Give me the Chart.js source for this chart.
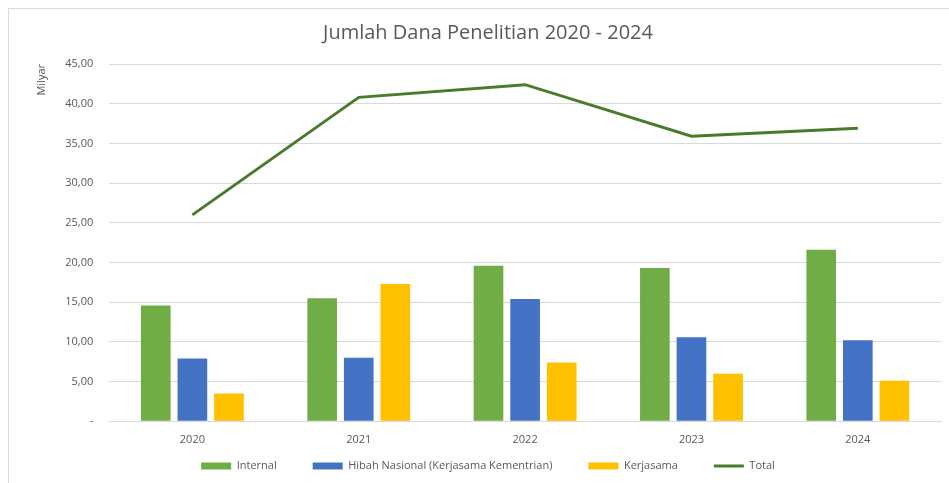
<!DOCTYPE html>
<html>
<head>
<meta charset="utf-8">
<title>Jumlah Dana Penelitian 2020 - 2024</title>
<script src="https://cdn.jsdelivr.net/npm/chart.js@4/dist/chart.umd.min.js"></script>
<style>
  html, body { margin: 0; padding: 0; background: #fff; }
  .frame { position: absolute; left: 8px; top: 8px; width: 960px; height: 500px;
           border: 1px solid #dcdcdc; box-sizing: border-box; }
  .wrap { position: absolute; left: 0; top: 0; width: 949px; height: 483px; }
</style>
</head>
<body>
<div class="frame"></div>
<div class="wrap"><canvas id="danaChart" width="949" height="483"></canvas></div>
<script>
// Dana penelitian (milyar rupiah) per tahun
const years = ["2020", "2021", "2022", "2023", "2024"];
const internal = [14.6, 15.5, 19.6, 19.3, 21.6];
const hibahNasional = [7.9, 8.0, 15.4, 10.6, 10.2];
const kerjasama = [3.5, 17.3, 7.4, 6.0, 5.1];
const total = [26.0, 40.8, 42.4, 35.9, 36.9];
const yTicks = [0, 5, 10, 15, 20, 25, 30, 35, 40, 45];

const textColor = "#595959";
const gridColor = "#d9d9d9";
const fontFamily = "'Open Sans', 'Noto Sans', sans-serif";

// wide gaps between legend items, but keep the legend row tight under the axis
const LEGEND_PAD = 36;
const LEGEND_TRIM = LEGEND_PAD - 10;

function fmtTick(v) {
  if (v === 0) return "-";
  return v.toFixed(2).replace(".", ",");
}

const legendTrim = {
  id: "legendTrim",
  beforeLayout(chart) {
    const lg = chart.legend;
    if (lg && !lg.trimmed) {
      const fit = lg.fit;
      lg.fit = function () { fit.call(this); this.height -= LEGEND_TRIM; };
      lg.trimmed = true;
    }
  },
  afterLayout(chart) {
    // only move the top edge, so the clip box still covers the row
    const lg = chart.legend;
    if (lg) lg.top -= LEGEND_TRIM;
  }
};

const ctx = document.getElementById("danaChart");
new Chart(ctx, {
  data: {
    labels: years,
    datasets: [
      { type: "bar", label: "Internal", data: internal, backgroundColor: "#70ad47", order: 2 },
      { type: "bar", label: "Hibah Nasional (Kerjasama Kementrian)", data: hibahNasional, backgroundColor: "#4472c4", order: 2 },
      { type: "bar", label: "Kerjasama", data: kerjasama, backgroundColor: "#ffc000", order: 2 },
      { type: "line", label: "Total", data: total, borderColor: "#4b7a2a", backgroundColor: "#4b7a2a",
        borderWidth: 3, pointRadius: 0, tension: 0, order: 1 }
    ]
  },
  options: {
    responsive: false,
    animation: false,
    datasets: { bar: { categoryPercentage: 0.66, barPercentage: 0.81 } },
    layout: { padding: { left: 35, right: 8, top: 2, bottom: 1.5 } },
    scales: {
      x: {
        grid: { display: false },
        border: { display: true, color: gridColor, width: 1 },
        ticks: { color: textColor, font: { family: fontFamily, size: 11 }, padding: 4 }
      },
      y: {
        min: 0, max: 45,
        afterBuildTicks: axis => { axis.ticks = yTicks.map(v => ({ value: v })); },
        grid: { color: gridColor, lineWidth: 1, drawTicks: false },
        border: { display: false },
        ticks: { color: textColor, font: { family: fontFamily, size: 11 }, padding: 16,
                 callback: v => fmtTick(v) },
        title: { display: true, text: "Milyar", align: "end", color: textColor,
                 font: { family: fontFamily, size: 11 }, padding: { top: 0, bottom: 1 } }
      }
    },
    plugins: {
      title: {
        display: true, text: "Jumlah Dana Penelitian 2020 - 2024", color: textColor,
        font: { family: fontFamily, size: 20, weight: "normal" }, padding: { top: 19, bottom: 19 }
      },
      legend: {
        position: "bottom",
        labels: {
          color: textColor, font: { family: fontFamily, size: 11 },
          usePointStyle: true, pointStyleWidth: 30, boxHeight: 7, padding: LEGEND_PAD,
          sort: (a, b) => a.datasetIndex - b.datasetIndex,
          generateLabels: chart => Chart.defaults.plugins.legend.labels.generateLabels(chart).map(l => ({
            ...l, pointStyle: l.datasetIndex === 3 ? "line" : "rect", lineWidth: l.datasetIndex === 3 ? 3 : 0
          }))
        }
      },
      tooltip: { enabled: false }
    }
  },
  plugins: [legendTrim]
});
</script>
</body>
</html>
